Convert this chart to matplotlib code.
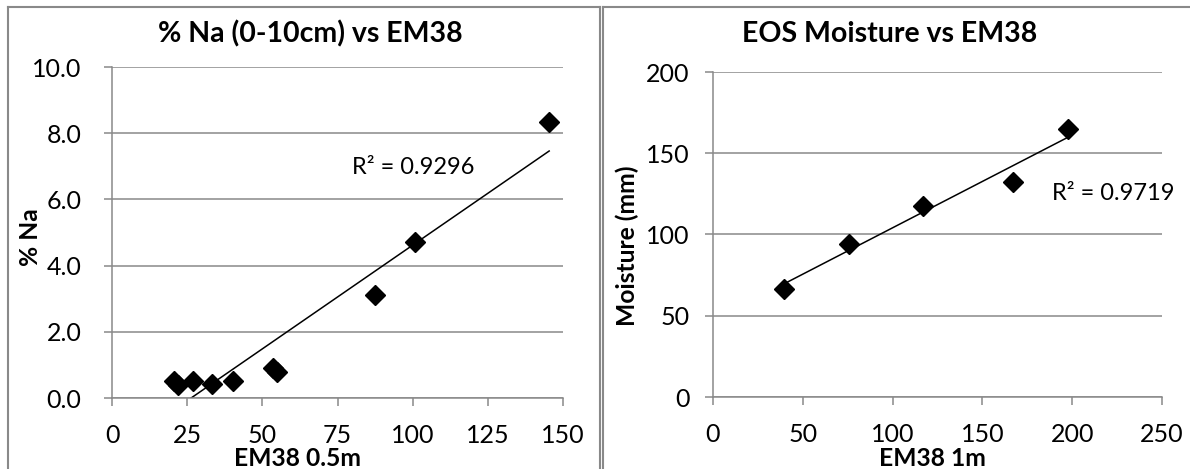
import numpy as np
import matplotlib
matplotlib.use('Agg')
import matplotlib.pyplot as plt
from matplotlib.lines import Line2D

plt.rcParams['font.family'] = ['Lato', 'DejaVu Sans']

# left chart: % Na vs EM38 0.5m
na_x = [20.5, 22.0, 27.0, 33.2, 40.3, 53.5, 55.0, 87.6, 100.7, 145.4]
na_y = [0.5, 0.4, 0.5, 0.42, 0.51, 0.9, 0.8, 3.1, 4.7, 8.35]
na_r2 = "R² = 0.9296"
na_xticks = [0, 25, 50, 75, 100, 125, 150]
na_yticks = [0, 2, 4, 6, 8, 10]

# right chart: EOS moisture vs EM38 1m
mo_x = [39.7, 75.7, 116.7, 167.0, 197.6]
mo_y = [66.5, 94.4, 117.5, 132.3, 165.1]
mo_r2 = "R² = 0.9719"
mo_xticks = [0, 50, 100, 150, 200, 250]
mo_yticks = [0, 50, 100, 150, 200]

W, H = 1190, 469
grey = '#898989'

def fx(px):
    return px / W

def fy(py):
    return 1 - py / H

fig = plt.figure(figsize=(W / 100, H / 100), dpi=100)
fig.patch.set_facecolor('white')

def style_axes(ax, xticks, yticks, ypad):
    for s in ['top', 'right']:
        ax.spines[s].set_visible(False)
    for s in ['left', 'bottom']:
        ax.spines[s].set_color(grey)
        ax.spines[s].set_linewidth(1.1)
    ax.set_xticks(xticks)
    ax.set_yticks(yticks)
    ax.set_xlim(xticks[0], xticks[-1])
    ax.set_ylim(yticks[0], yticks[-1])
    ax.yaxis.grid(True, color=grey, linewidth=1.1)
    ax.set_axisbelow(True)
    ax.tick_params(axis='both', direction='out', length=6, width=1.1,
                   color=grey, labelsize=18, labelcolor='black')
    ax.tick_params(axis='x', pad=13)
    ax.tick_params(axis='y', pad=ypad)

def trend(ax, x, y, y0):
    x = np.array(x)
    y = np.array(y)
    a, b = np.polyfit(x, y, 1)
    xs = max(x.min(), (y0 - b) / a)
    xe = x.max()
    ax.plot([xs, xe], [a * xs + b, a * xe + b], color='black', linewidth=1.1, zorder=2)

# left
ax1 = fig.add_axes([fx(112), fy(398), fx(563) - fx(112), fy(67) - fy(398)])
style_axes(ax1, na_xticks, na_yticks, 16)
ax1.yaxis.set_major_formatter(matplotlib.ticker.FormatStrFormatter('%.1f'))
trend(ax1, na_x, na_y, 0)
ax1.plot(na_x, na_y, linestyle='none', marker='D', markersize=10.5,
         color='black', zorder=3, clip_on=False)
ax1.text(79.8, 6.95, na_r2, fontsize=17, va='center', ha='left')

# right
ax2 = fig.add_axes([fx(713), fy(397), fx(1162) - fx(713), fy(72) - fy(397)])
style_axes(ax2, mo_xticks, mo_yticks, 11)
trend(ax2, mo_x, mo_y, 0)
ax2.plot(mo_x, mo_y, linestyle='none', marker='D', markersize=10.5,
         color='black', zorder=3, clip_on=False)
ax2.text(188.7, 125.5, mo_r2, fontsize=17, va='center', ha='left', clip_on=False)

# titles and axis labels
fig.text(fx(310), fy(34), "% Na (0-10cm) vs EM38", fontsize=20.5, fontweight='bold',
         ha='center', va='center')
fig.text(fx(890), fy(34), "EOS Moisture vs EM38", fontsize=20.5, fontweight='bold',
         ha='center', va='center')
fig.text(fx(30), fy(237), "% Na", fontsize=17.7, fontweight='bold',
         ha='center', va='center', rotation=90)
fig.text(fx(627), fy(246), "Moisture (mm)", fontsize=17.7, fontweight='bold',
         ha='center', va='center', rotation=90)
fig.text(fx(297), fy(458), "EM38 0.5m", fontsize=17.7, fontweight='bold',
         ha='center', va='center')
fig.text(fx(932), fy(458), "EM38 1m", fontsize=17.7, fontweight='bold',
         ha='center', va='center')

# chart frames
frame = dict(color=grey, linewidth=1.5, transform=fig.transFigure)
fig.add_artist(Line2D([fx(8), fx(8)], [fy(7), 0], **frame))
fig.add_artist(Line2D([fx(8), fx(600)], [fy(7), fy(7)], **frame))
fig.add_artist(Line2D([fx(600), fx(600)], [fy(7), 0], **frame))
fig.add_artist(Line2D([fx(603), fx(603)], [fy(7), 0], **frame))
fig.add_artist(Line2D([fx(603), 1], [fy(7), fy(7)], **frame))

fig.savefig('out.png', dpi=100)
